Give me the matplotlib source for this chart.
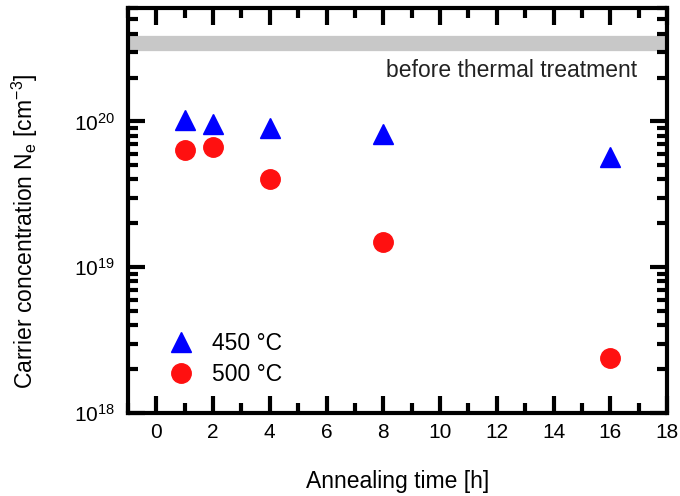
import matplotlib
matplotlib.use('Agg')
import matplotlib.pyplot as plt
from matplotlib.ticker import LogLocator, MultipleLocator, NullFormatter

plt.rcParams['font.family'] = ['Liberation Sans', 'DejaVu Sans']
plt.rcParams['mathtext.fontset'] = 'custom'
plt.rcParams['mathtext.rm'] = 'Liberation Sans'
plt.rcParams['mathtext.it'] = 'Liberation Sans'

# data
t_450 = [1, 2, 4, 8, 16]
n_450 = [1.03e20, 0.96e20, 0.90e20, 0.82e20, 5.7e19]
t_500 = [1, 2, 4, 8, 16]
n_500 = [6.4e19, 6.7e19, 4.0e19, 1.5e19, 2.4e18]
n_before = 3.47e20

fig = plt.figure(figsize=(6.8, 4.96), dpi=100)
ax = fig.add_axes([0.188, 0.167, 0.793, 0.817])

ax.axhline(n_before, color='#c8c8c8', linewidth=11, zorder=1)
ax.text(16.96, 2.25e20, 'before thermal treatment', ha='right', va='center',
        fontsize=16.5, color='#222222')

ax.plot(t_450, n_450, '^', color='#0000ff', markersize=14, linestyle='none',
        label='450 °C', zorder=3)
ax.plot(t_500, n_500, 'o', color='#ff1010', markersize=14, linestyle='none',
        label='500 °C', zorder=3)

ax.set_yscale('log')
ax.set_xlim(-1, 18)
ax.set_ylim(1e18, 6e20)

ax.xaxis.set_major_locator(MultipleLocator(2))
ax.xaxis.set_minor_locator(MultipleLocator(1))
ax.yaxis.set_major_locator(LogLocator(base=10, numticks=10))
ax.yaxis.set_minor_locator(LogLocator(base=10, subs=range(2, 10), numticks=10))
ax.yaxis.set_minor_formatter(NullFormatter())

for s in ax.spines.values():
    s.set_linewidth(3)
ax.tick_params(which='both', direction='in', top=True, right=True, labelsize=15)
ax.tick_params(axis='x', pad=7)
ax.tick_params(axis='y', pad=9)
ax.tick_params(which='major', length=12, width=3)
ax.tick_params(which='minor', length=7, width=3)

ax.set_xlabel('Annealing time [h]', fontsize=16.5, labelpad=20)
ax.set_ylabel('Carrier concentration N$_\\mathrm{e}$ [cm$^{-3}$]', fontsize=16.5)
ax.yaxis.set_label_coords(-0.163, 0.449)

ax.legend(loc='center left', frameon=False, fontsize=16.5, handletextpad=0.6,
          borderaxespad=0, labelspacing=0.35, handlelength=1.5,
          bbox_to_anchor=(0.049, 0.133))

fig.savefig('out.png', dpi=100)
plt.close(fig)
